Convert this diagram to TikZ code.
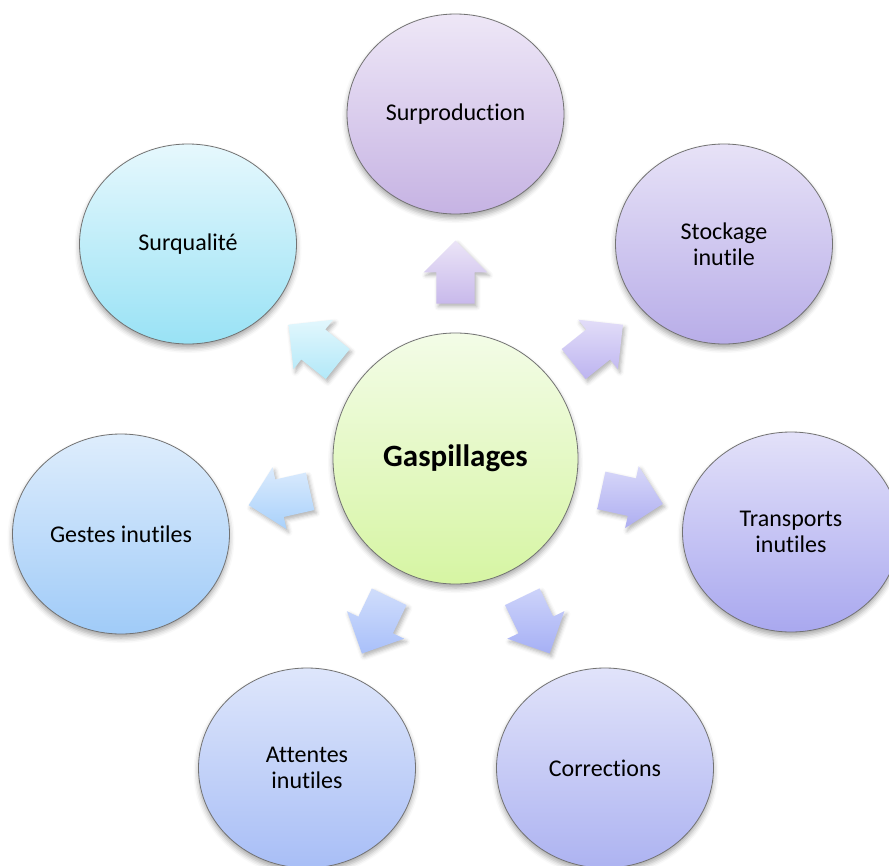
\documentclass[tikz,border=0pt]{standalone}
\usepackage{fontspec}
\setmainfont[Ligatures={NoCommon}]{Carlito}
\usetikzlibrary{shapes.geometric,shapes.arrows,shadows.blur}

% fills of the bubbles (top / bottom of each gradient)
\definecolor{spT}{HTML}{EEE7F7}\definecolor{spB}{HTML}{C6B3E3}
\definecolor{stT}{HTML}{E7E2F7}\definecolor{stB}{HTML}{B8ADE8}
\definecolor{trT}{HTML}{E3E1F9}\definecolor{trB}{HTML}{A9A8EF}
\definecolor{coT}{HTML}{E1E3FA}\definecolor{coB}{HTML}{ADB3F1}
\definecolor{atT}{HTML}{DEE6FB}\definecolor{atB}{HTML}{A8BEF6}
\definecolor{geT}{HTML}{DEEDFC}\definecolor{geB}{HTML}{A0CBF8}
\definecolor{sqT}{HTML}{E6F8FD}\definecolor{sqB}{HTML}{99E2F5}
\definecolor{gaT}{HTML}{F3FCE7}\definecolor{gaB}{HTML}{D6F5A3}
% fills of the block arrows
\definecolor{aspT}{HTML}{EBE4F7}\definecolor{aspB}{HTML}{C8B9EB}
\definecolor{astT}{HTML}{E2DDF8}\definecolor{astB}{HTML}{BDB4F0}
\definecolor{atrT}{HTML}{D8D8F9}\definecolor{atrB}{HTML}{AEAEF1}
\definecolor{acoT}{HTML}{CDD3FA}\definecolor{acoB}{HTML}{A6B0F5}
\definecolor{aatT}{HTML}{D0DDFB}\definecolor{aatB}{HTML}{A9C0FA}
\definecolor{ageT}{HTML}{DBEBFD}\definecolor{ageB}{HTML}{A9D1FB}
\definecolor{asqT}{HTML}{E2F7FD}\definecolor{asqB}{HTML}{B2E8F8}

\begin{document}
\begin{tikzpicture}[x=1pt,y=-1pt,
  bubble/.style={ellipse, draw=black!55, line width=0.8pt,
    minimum width=217pt, minimum height=200pt, inner sep=0pt,
    align=center, font=\fontsize{24}{26}\selectfont,
    blur shadow={shadow xshift=0pt, shadow yshift=-4pt,
      shadow blur radius=5pt, shadow opacity=35}},
  hub/.style={bubble, minimum width=245pt, minimum height=251pt,
    font=\fontsize{31}{36}\selectfont\bfseries},
  grad/.style 2 args={top color=#1, bottom color=#2},
  blockarrow/.style={single arrow, draw=none, sloped, allow upside down,
    pos=0.43, minimum height=63pt, inner xsep=0pt, inner ysep=19pt,
    single arrow head extend=12.5pt, single arrow tip angle=90,
    blur shadow={shadow xshift=2pt, shadow yshift=-3pt,
      shadow blur radius=4pt, shadow opacity=30}},
]
\useasboundingbox (0,0) rectangle (889,865);

% central bubble
\node[hub, grad={gaT}{gaB}] (ga) at (455.5,458.5) {Gaspillages};

% surrounding bubbles
\node[bubble, grad={spT}{spB}] (sp) at (455.5,114) {Surproduction};
\node[bubble, grad={stT}{stB}] (st) at (724,244) {Stockage\\inutile};
\node[bubble, grad={trT}{trB}] (tr) at (791,532) {Transports\\inutiles};
\node[bubble, grad={coT}{coB}] (co) at (605,768) {Corrections};
\node[bubble, grad={atT}{atB}] (at) at (307,768) {Attentes\\inutiles};
\node[bubble, grad={geT}{geB}] (ge) at (121,534) {Gestes inutiles};
\node[bubble, grad={sqT}{sqB}] (sq) at (188,244) {Surqualité};

% block arrows pointing outwards, between the hub and each bubble
\path (ga) -- (sp) node[blockarrow, grad={aspT}{aspB}] (a1) {};
\path (ga) -- (st) node[blockarrow, grad={astT}{astB}] (a2) {};
\path (ga) -- (tr) node[blockarrow, grad={atrT}{atrB}] (a3) {};
\path (ga) -- (co) node[blockarrow, grad={acoT}{acoB}] (a4) {};
\path (ga) -- (at) node[blockarrow, grad={aatT}{aatB}] (a5) {};
\path (ga) -- (ge) node[blockarrow, grad={ageT}{ageB}] (a6) {};
\path (ga) -- (sq) node[blockarrow, grad={asqT}{asqB}] (a7) {};
\end{tikzpicture}
\end{document}
